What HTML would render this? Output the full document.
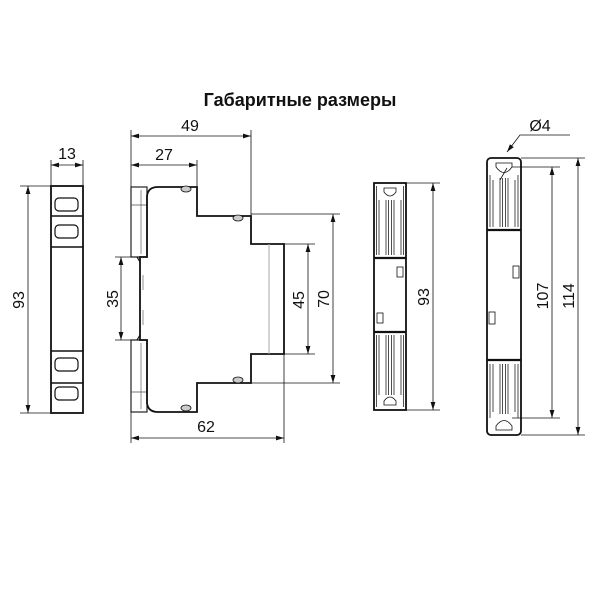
<!DOCTYPE html>
<html><head><meta charset="utf-8"><style>
html,body{margin:0;padding:0;background:#fff;}
svg{display:block;}
text{font-family:"Liberation Sans",sans-serif;fill:#111;}
</style></head><body>
<svg width="600" height="600" viewBox="0 0 600 600" xmlns="http://www.w3.org/2000/svg">
<defs>
<marker id="a" viewBox="0 0 10 6" refX="10" refY="3" markerWidth="8" markerHeight="5" orient="auto-start-reverse" markerUnits="userSpaceOnUse"><path d="M0,0 L10,3 L0,6z" fill="#111"/></marker>
</defs>
<text x="300" y="106" font-size="18" font-weight="bold" text-anchor="middle">Габаритные размеры</text>

<g stroke="#111" fill="none" stroke-width="0.8">
<!-- view 1 -->
<rect x="51" y="186" width="32" height="227" stroke-width="1.8"/>
<line x1="51" y1="216" x2="83" y2="216" stroke-width="1.5"/>
<line x1="51" y1="247" x2="83" y2="247" stroke-width="1.5"/>
<line x1="51" y1="351" x2="83" y2="351" stroke-width="1.5"/>
<line x1="51" y1="383" x2="83" y2="383" stroke-width="1.5"/>
<rect x="55" y="198" width="23" height="13" rx="4" stroke-width="1.2"/>
<rect x="55" y="225" width="23" height="13" rx="4" stroke-width="1.2"/>
<rect x="55" y="358" width="23" height="13" rx="4" stroke-width="1.2"/>
<rect x="55" y="387" width="23" height="13" rx="4" stroke-width="1.2"/>
<line x1="51" y1="160" x2="51" y2="186"/><line x1="83" y1="160" x2="83" y2="186"/>
<line x1="51" y1="165" x2="83" y2="165" marker-start="url(#a)" marker-end="url(#a)"/>
<line x1="20" y1="186" x2="51" y2="186"/><line x1="20" y1="413" x2="51" y2="413"/>
<line x1="28" y1="186" x2="28" y2="413" marker-start="url(#a)" marker-end="url(#a)"/>

<!-- view 2 -->
<rect x="131" y="187" width="16" height="70" stroke="#222" stroke-width="1.2"/>
<rect x="131" y="340" width="16" height="72" stroke="#222" stroke-width="1.2"/>
<line x1="141" y1="190" x2="141" y2="254" stroke="#777"/>
<line x1="141" y1="343" x2="141" y2="409" stroke="#777"/>
<line x1="131" y1="205" x2="147" y2="205" stroke="#555"/>
<line x1="131" y1="392" x2="147" y2="392" stroke="#555"/>
<path d="M147,257 L147,196 Q148,187 158,187 L197,187 L197,216 L251,216 L251,244 L284,244 L284,354 L251,354 L251,383 L197,383 L197,412 L158,412 Q148,412 147,403 L147,340 L140,340 L140,257 Z" stroke-width="1.8"/>
<path d="M137,257 L140,262 M137,340 L140,335" stroke-width="1.2"/>
<line x1="143" y1="275" x2="143" y2="290" stroke="#777"/>
<line x1="143" y1="310" x2="143" y2="325" stroke="#777"/>
<line x1="269" y1="244" x2="269" y2="354" stroke="#aaa" stroke-width="1"/>
<line x1="137" y1="257" x2="147" y2="257"/><line x1="137" y1="340" x2="147" y2="340"/>
<ellipse cx="186" cy="189" rx="5" ry="3" fill="#ccc"/>
<ellipse cx="238" cy="218" rx="5" ry="3" fill="#ccc"/>
<ellipse cx="238" cy="380" rx="5" ry="3" fill="#ccc"/>
<ellipse cx="186" cy="408" rx="5" ry="3" fill="#ccc"/>
<line x1="131" y1="130" x2="131" y2="187"/><line x1="251" y1="130" x2="251" y2="216"/>
<line x1="197" y1="160" x2="197" y2="187"/>
<line x1="131" y1="136" x2="251" y2="136" marker-start="url(#a)" marker-end="url(#a)"/>
<line x1="131" y1="165" x2="197" y2="165" marker-start="url(#a)" marker-end="url(#a)"/>
<line x1="115" y1="257" x2="140" y2="257"/><line x1="115" y1="340" x2="140" y2="340"/>
<line x1="121" y1="257" x2="121" y2="340" marker-start="url(#a)" marker-end="url(#a)"/>
<line x1="284" y1="244" x2="315" y2="244"/><line x1="284" y1="354" x2="315" y2="354"/>
<line x1="308" y1="244" x2="308" y2="354" marker-start="url(#a)" marker-end="url(#a)"/>
<line x1="251" y1="214" x2="340" y2="214"/><line x1="251" y1="383" x2="340" y2="383"/>
<line x1="333" y1="214" x2="333" y2="383" marker-start="url(#a)" marker-end="url(#a)"/>
<line x1="131" y1="412" x2="131" y2="443"/><line x1="284" y1="354" x2="284" y2="443"/>
<line x1="131" y1="438" x2="284" y2="438" marker-start="url(#a)" marker-end="url(#a)"/>

<!-- view 3 -->
<rect x="374" y="183" width="32" height="227" stroke-width="1.8"/>
<line x1="374" y1="258" x2="406" y2="258" stroke-width="2.2"/>
<line x1="374" y1="332" x2="406" y2="332" stroke-width="2.2"/>
<path d="M384,188 L396,188 L396,192 Q390,200 384,192 Z"/>
<path d="M384,405 L396,405 L396,401 Q390,393 384,401 Z"/>
<g stroke="#222"><line x1="386" y1="200" x2="386" y2="255"/><line x1="388.5" y1="200" x2="388.5" y2="255"/><line x1="391.5" y1="200" x2="391.5" y2="255"/><line x1="394" y1="200" x2="394" y2="255"/><line x1="379" y1="200" x2="379" y2="255"/><line x1="401" y1="200" x2="401" y2="255"/><line x1="376.5" y1="186" x2="376.5" y2="255"/><line x1="403.5" y1="186" x2="403.5" y2="255"/>
<line x1="386" y1="335" x2="386" y2="395"/><line x1="388.5" y1="335" x2="388.5" y2="395"/><line x1="391.5" y1="335" x2="391.5" y2="395"/><line x1="394" y1="335" x2="394" y2="395"/><line x1="379" y1="335" x2="379" y2="395"/><line x1="401" y1="335" x2="401" y2="395"/><line x1="376.5" y1="335" x2="376.5" y2="407"/><line x1="403.5" y1="335" x2="403.5" y2="407"/></g>
<rect x="397" y="267" width="6" height="10"/><rect x="377" y="313" width="6" height="10"/>
<line x1="406" y1="183" x2="440" y2="183"/><line x1="406" y1="410" x2="440" y2="410"/>
<line x1="433" y1="183" x2="433" y2="410" marker-start="url(#a)" marker-end="url(#a)"/>

<!-- view 4 -->
<rect x="487" y="158" width="34" height="277" rx="4" stroke-width="1.8"/>
<line x1="487" y1="230" x2="521" y2="230" stroke-width="2.2"/>
<line x1="487" y1="360" x2="521" y2="360" stroke-width="2.2"/>
<path d="M496,163 L512,163 L512,167 Q504,178 496,167 Z"/>
<path d="M496,430 L512,430 L512,426 Q504,415 496,426 Z"/>
<g stroke="#222"><line x1="500" y1="178" x2="500" y2="227"/><line x1="502.5" y1="178" x2="502.5" y2="227"/><line x1="505.5" y1="178" x2="505.5" y2="227"/><line x1="508" y1="178" x2="508" y2="227"/><line x1="493" y1="180" x2="493" y2="227"/><line x1="515" y1="180" x2="515" y2="227"/><line x1="490" y1="175" x2="490" y2="227"/><line x1="518" y1="175" x2="518" y2="227"/>
<line x1="500" y1="364" x2="500" y2="414"/><line x1="502.5" y1="364" x2="502.5" y2="414"/><line x1="505.5" y1="364" x2="505.5" y2="414"/><line x1="508" y1="364" x2="508" y2="414"/><line x1="493" y1="364" x2="493" y2="412"/><line x1="515" y1="364" x2="515" y2="412"/><line x1="490" y1="364" x2="490" y2="418"/><line x1="518" y1="364" x2="518" y2="418"/></g>
<rect x="513" y="266" width="6" height="12"/><rect x="489" y="312" width="6" height="12"/>
<line x1="521" y1="158" x2="585" y2="158"/><line x1="521" y1="435" x2="585" y2="435"/>
<line x1="512" y1="167" x2="560" y2="167"/><line x1="512" y1="418" x2="560" y2="418"/>
<line x1="552" y1="167" x2="552" y2="418" marker-start="url(#a)" marker-end="url(#a)"/>
<line x1="578" y1="158" x2="578" y2="435" marker-start="url(#a)" marker-end="url(#a)"/>
<polyline points="570,135 520,135 507,152" marker-end="url(#a)"/>
<line x1="500" y1="180" x2="507" y2="168"/>
</g>

<g font-size="16">
<text x="67" y="159" text-anchor="middle">13</text>
<text x="190" y="131" text-anchor="middle">49</text>
<text x="164" y="160" text-anchor="middle">27</text>
<text x="206" y="432" text-anchor="middle">62</text>
<text x="540" y="131" text-anchor="middle">Ø4</text>
<text transform="translate(24,300) rotate(-90)" text-anchor="middle">93</text>
<text transform="translate(118,299) rotate(-90)" text-anchor="middle">35</text>
<text transform="translate(304,300) rotate(-90)" text-anchor="middle">45</text>
<text transform="translate(329,299) rotate(-90)" text-anchor="middle">70</text>
<text transform="translate(429,297) rotate(-90)" text-anchor="middle">93</text>
<text transform="translate(548,296) rotate(-90)" text-anchor="middle">107</text>
<text transform="translate(574,296) rotate(-90)" text-anchor="middle">114</text>
</g>
</svg>
</body></html>
